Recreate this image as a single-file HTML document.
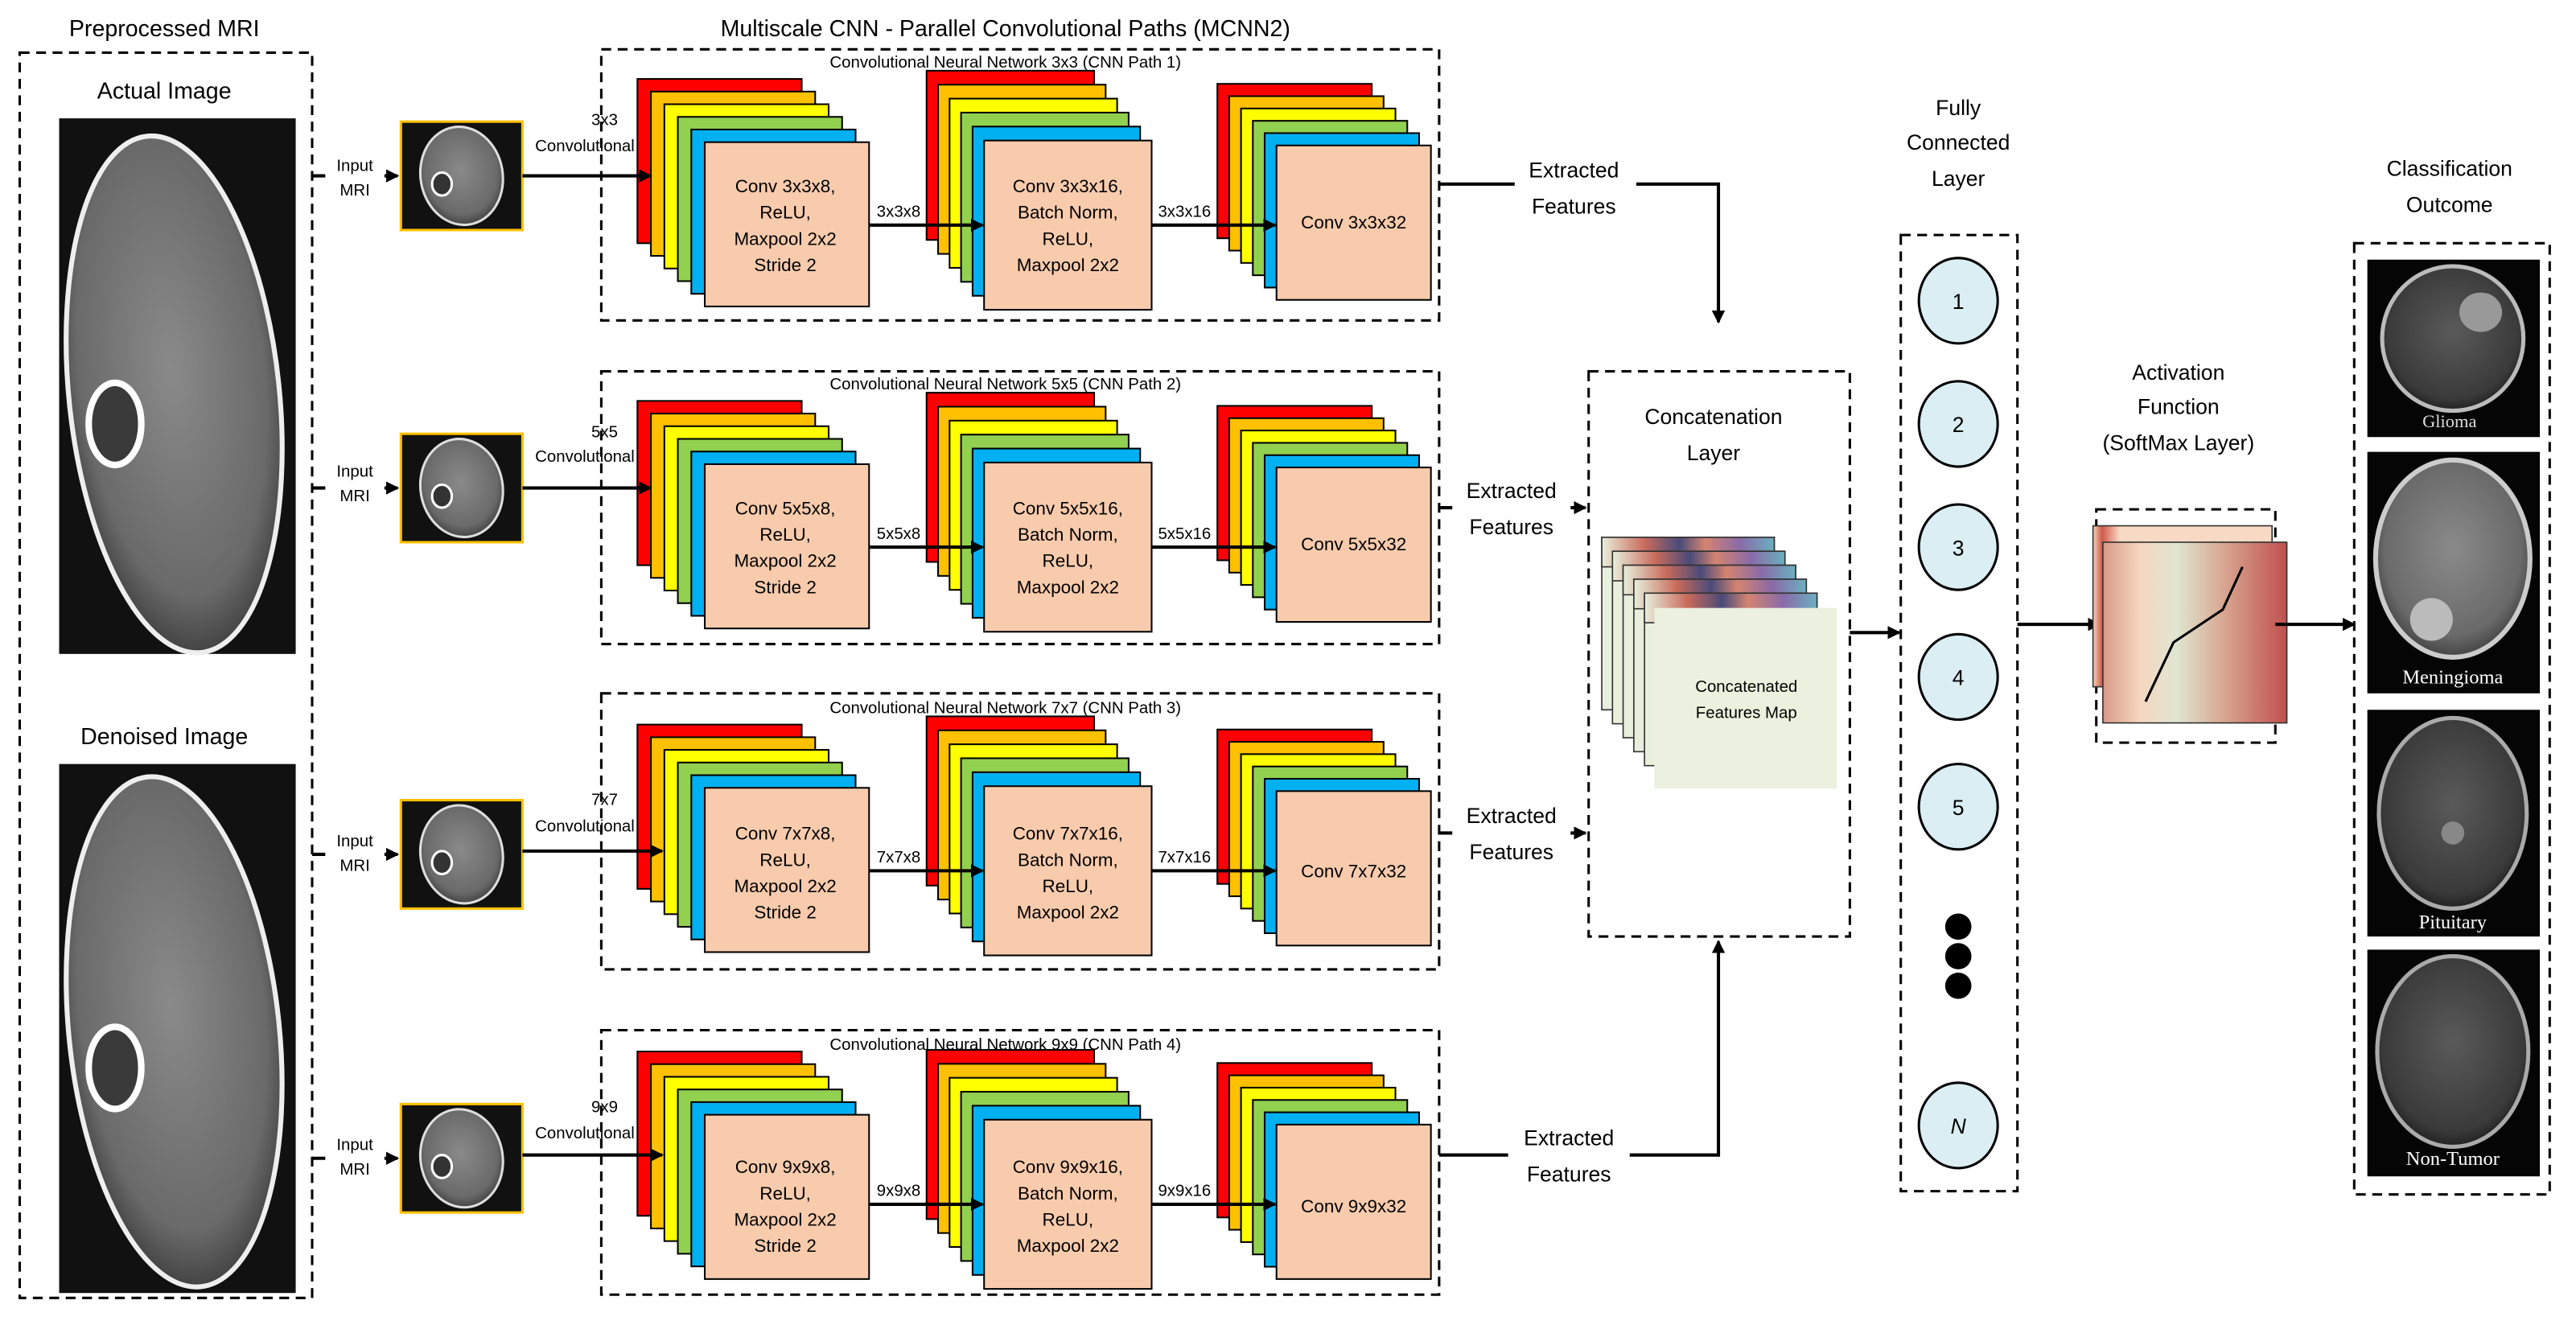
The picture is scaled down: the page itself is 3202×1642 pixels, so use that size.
<!DOCTYPE html>
<html><head><meta charset="utf-8"><style>
html,body{margin:0;padding:0;background:#fff;width:3202px;height:1642px;overflow:hidden}
svg{display:block}
text{font-family:"Liberation Sans",sans-serif;fill:#000}
</style></head><body>
<svg width="3202" height="1642" viewBox="0 0 1568 804" xmlns="http://www.w3.org/2000/svg">
<defs>
<marker id="ah" markerWidth="8" markerHeight="8" refX="7" refY="4" orient="auto" markerUnits="userSpaceOnUse"><path d="M0,0 L8,4 L0,8 z" fill="#000"/></marker>
<radialGradient id="brainG" cx="50%" cy="45%" r="55%"><stop offset="0" stop-color="#8a8a8a"/><stop offset="0.8" stop-color="#6a6a6a"/><stop offset="1" stop-color="#444"/></radialGradient>
<radialGradient id="brainD" cx="50%" cy="45%" r="55%"><stop offset="0" stop-color="#5a5a5a"/><stop offset="0.85" stop-color="#3a3a3a"/><stop offset="1" stop-color="#222"/></radialGradient>
<linearGradient id="featTop" x1="0" x2="1" y1="0" y2="0"><stop offset="0" stop-color="#e8efdc"/><stop offset="0.25" stop-color="#c96a5a"/><stop offset="0.45" stop-color="#4a4a7a"/><stop offset="0.6" stop-color="#d48470"/><stop offset="0.8" stop-color="#8a6aa8"/><stop offset="1" stop-color="#6ab0c0"/></linearGradient>
<linearGradient id="smG" x1="0" x2="1" y1="0" y2="0"><stop offset="0" stop-color="#d89a88"/><stop offset="0.2" stop-color="#f6d6bf"/><stop offset="0.4" stop-color="#dfe6d2"/><stop offset="0.65" stop-color="#d8a892"/><stop offset="1" stop-color="#c0504d"/></linearGradient>
<linearGradient id="smB" x1="0" x2="1"><stop offset="0" stop-color="#f6d6bf"/><stop offset="0.05" stop-color="#d05a4a"/><stop offset="0.15" stop-color="#f8d9c4"/><stop offset="1" stop-color="#f8d9c4"/></linearGradient>
<g id="thumb">
<rect x="0" y="0" width="74" height="66" fill="#111" stroke="#FFC000" stroke-width="1.5"/>
<ellipse cx="37" cy="33" rx="25" ry="30" fill="url(#brainG)" stroke="#ddd" stroke-width="1.5" transform="rotate(-10 37 33)"/>
<ellipse cx="25" cy="38" rx="6" ry="7" fill="#333" stroke="#fff" stroke-width="1.5"/>
</g>
<g id="stA">
<rect x="0" y="0" width="100" height="100" fill="#FF0000" stroke="#000" stroke-width="1"/>
<rect x="8.2" y="7.7" width="100" height="100" fill="#FFC000" stroke="#000" stroke-width="1"/>
<rect x="16.4" y="15.4" width="100" height="100" fill="#FFFF00" stroke="#000" stroke-width="1"/>
<rect x="24.6" y="23.1" width="100" height="100" fill="#92D050" stroke="#000" stroke-width="1"/>
<rect x="32.8" y="30.8" width="100" height="100" fill="#00B0F0" stroke="#000" stroke-width="1"/>
<rect x="41" y="38.5" width="100" height="100" fill="#F8CBAD" stroke="#000" stroke-width="1"/>
</g>
<g id="stB">
<rect x="0" y="0" width="102" height="103" fill="#FF0000" stroke="#000" stroke-width="1"/>
<rect x="7" y="8.5" width="102" height="103" fill="#FFC000" stroke="#000" stroke-width="1"/>
<rect x="14" y="17" width="102" height="103" fill="#FFFF00" stroke="#000" stroke-width="1"/>
<rect x="21" y="25.5" width="102" height="103" fill="#92D050" stroke="#000" stroke-width="1"/>
<rect x="28" y="34" width="102" height="103" fill="#00B0F0" stroke="#000" stroke-width="1"/>
<rect x="35" y="42.5" width="102" height="103" fill="#F8CBAD" stroke="#000" stroke-width="1"/>
</g>
<g id="stC">
<rect x="0" y="0" width="94" height="94" fill="#FF0000" stroke="#000" stroke-width="1"/>
<rect x="7.2" y="7.5" width="94" height="94" fill="#FFC000" stroke="#000" stroke-width="1"/>
<rect x="14.4" y="15" width="94" height="94" fill="#FFFF00" stroke="#000" stroke-width="1"/>
<rect x="21.6" y="22.5" width="94" height="94" fill="#92D050" stroke="#000" stroke-width="1"/>
<rect x="28.8" y="30" width="94" height="94" fill="#00B0F0" stroke="#000" stroke-width="1"/>
<rect x="36" y="37.5" width="94" height="94" fill="#F8CBAD" stroke="#000" stroke-width="1"/>
</g>
</defs>

<!-- Left column -->
<text x="100" y="22" font-size="14" text-anchor="middle">Preprocessed MRI</text>
<rect x="12" y="32" width="178" height="758" fill="none" stroke="#000" stroke-width="1.5" stroke-dasharray="6,4"/>
<text x="100" y="60" font-size="14" text-anchor="middle">Actual Image</text>
<rect x="36" y="72" width="144" height="326" fill="#111"/>
<ellipse cx="106" cy="240" rx="64" ry="158" fill="url(#brainG)" stroke="#eee" stroke-width="3" transform="rotate(-6 106 240)"/>
<ellipse cx="70" cy="258" rx="16" ry="25" fill="#3a3a3a" stroke="#fff" stroke-width="4"/>
<text x="100" y="453" font-size="14" text-anchor="middle">Denoised Image</text>
<rect x="36" y="465" width="144" height="322" fill="#111"/>
<ellipse cx="106" cy="628" rx="64" ry="156" fill="url(#brainG)" stroke="#eee" stroke-width="3" transform="rotate(-6 106 628)"/>
<ellipse cx="70" cy="650" rx="16" ry="25" fill="#3a3a3a" stroke="#fff" stroke-width="4"/>

<text x="612" y="22" font-size="14" text-anchor="middle">Multiscale CNN - Parallel Convolutional Paths (MCNN2)</text>

<!-- Row 1 -->
<rect x="366" y="30" width="510" height="165" fill="none" stroke="#000" stroke-width="1.5" stroke-dasharray="6,4"/>
<text x="612" y="41" font-size="10" text-anchor="middle">Convolutional Neural Network 3x3 (CNN Path 1)</text>
<line x1="190" y1="107" x2="242" y2="107" stroke="#000" stroke-width="2" marker-end="url(#ah)"/>
<rect x="198" y="92" width="36" height="30" fill="#fff"/>
<text x="216" y="104" font-size="10" text-anchor="middle">Input</text><text x="216" y="119" font-size="10" text-anchor="middle">MRI</text>
<use href="#thumb" x="244" y="74"/>
<use href="#stA" x="388" y="48"/>
<use href="#stB" x="564" y="43"/>
<use href="#stC" x="741" y="51"/>
<line x1="318" y1="107" x2="396" y2="107" stroke="#000" stroke-width="2" marker-end="url(#ah)"/>
<text x="368" y="76" font-size="10" text-anchor="middle">3x3</text><text x="356" y="92" font-size="10" text-anchor="middle">Convolutional</text>
<line x1="529" y1="137" x2="598" y2="137" stroke="#000" stroke-width="2" marker-end="url(#ah)"/>
<line x1="701" y1="137" x2="776" y2="137" stroke="#000" stroke-width="2" marker-end="url(#ah)"/>
<text x="547" y="132" font-size="10" text-anchor="middle">3x3x8</text>
<text x="721" y="132" font-size="10" text-anchor="middle">3x3x16</text>
<g font-size="11" text-anchor="middle">
<text x="478" y="117">Conv 3x3x8,</text><text x="478" y="133">ReLU,</text><text x="478" y="149">Maxpool 2x2</text><text x="478" y="165">Stride 2</text>
<text x="650" y="117">Conv 3x3x16,</text><text x="650" y="133">Batch Norm,</text><text x="650" y="149">ReLU,</text><text x="650" y="165">Maxpool 2x2</text>
<text x="824" y="139">Conv 3x3x32</text>
</g>

<!-- Row 2 -->
<rect x="366" y="226" width="510" height="166" fill="none" stroke="#000" stroke-width="1.5" stroke-dasharray="6,4"/>
<text x="612" y="237" font-size="10" text-anchor="middle">Convolutional Neural Network 5x5 (CNN Path 2)</text>
<line x1="190" y1="297" x2="242" y2="297" stroke="#000" stroke-width="2" marker-end="url(#ah)"/>
<rect x="198" y="282" width="36" height="30" fill="#fff"/>
<text x="216" y="290" font-size="10" text-anchor="middle">Input</text><text x="216" y="305" font-size="10" text-anchor="middle">MRI</text>
<use href="#thumb" x="244" y="264"/>
<use href="#stA" x="388" y="244"/>
<use href="#stB" x="564" y="239"/>
<use href="#stC" x="741" y="247"/>
<line x1="318" y1="297" x2="396" y2="297" stroke="#000" stroke-width="2" marker-end="url(#ah)"/>
<text x="368" y="266" font-size="10" text-anchor="middle">5x5</text><text x="356" y="281" font-size="10" text-anchor="middle">Convolutional</text>
<line x1="529" y1="333" x2="598" y2="333" stroke="#000" stroke-width="2" marker-end="url(#ah)"/>
<line x1="701" y1="333" x2="776" y2="333" stroke="#000" stroke-width="2" marker-end="url(#ah)"/>
<text x="547" y="328" font-size="10" text-anchor="middle">5x5x8</text>
<text x="721" y="328" font-size="10" text-anchor="middle">5x5x16</text>
<g font-size="11" text-anchor="middle">
<text x="478" y="313">Conv 5x5x8,</text><text x="478" y="329">ReLU,</text><text x="478" y="345">Maxpool 2x2</text><text x="478" y="361">Stride 2</text>
<text x="650" y="313">Conv 5x5x16,</text><text x="650" y="329">Batch Norm,</text><text x="650" y="345">ReLU,</text><text x="650" y="361">Maxpool 2x2</text>
<text x="824" y="335">Conv 5x5x32</text>
</g>

<!-- Row 3 -->
<rect x="366" y="422" width="510" height="168" fill="none" stroke="#000" stroke-width="1.5" stroke-dasharray="6,4"/>
<text x="612" y="434" font-size="10" text-anchor="middle">Convolutional Neural Network 7x7 (CNN Path 3)</text>
<line x1="190" y1="520" x2="242" y2="520" stroke="#000" stroke-width="2" marker-end="url(#ah)"/>
<rect x="198" y="505" width="36" height="30" fill="#fff"/>
<text x="216" y="515" font-size="10" text-anchor="middle">Input</text><text x="216" y="530" font-size="10" text-anchor="middle">MRI</text>
<use href="#thumb" x="244" y="487"/>
<use href="#stA" x="388" y="441"/>
<use href="#stB" x="564" y="436"/>
<use href="#stC" x="741" y="444"/>
<line x1="318" y1="518" x2="403" y2="518" stroke="#000" stroke-width="2" marker-end="url(#ah)"/>
<text x="368" y="490" font-size="10" text-anchor="middle">7x7</text><text x="356" y="506" font-size="10" text-anchor="middle">Convolutional</text>
<line x1="529" y1="530" x2="598" y2="530" stroke="#000" stroke-width="2" marker-end="url(#ah)"/>
<line x1="701" y1="530" x2="776" y2="530" stroke="#000" stroke-width="2" marker-end="url(#ah)"/>
<text x="547" y="525" font-size="10" text-anchor="middle">7x7x8</text>
<text x="721" y="525" font-size="10" text-anchor="middle">7x7x16</text>
<g font-size="11" text-anchor="middle">
<text x="478" y="511">Conv 7x7x8,</text><text x="478" y="527">ReLU,</text><text x="478" y="543">Maxpool 2x2</text><text x="478" y="559">Stride 2</text>
<text x="650" y="511">Conv 7x7x16,</text><text x="650" y="527">Batch Norm,</text><text x="650" y="543">ReLU,</text><text x="650" y="559">Maxpool 2x2</text>
<text x="824" y="534">Conv 7x7x32</text>
</g>

<!-- Row 4 -->
<rect x="366" y="627" width="510" height="161" fill="none" stroke="#000" stroke-width="1.5" stroke-dasharray="6,4"/>
<text x="612" y="639" font-size="10" text-anchor="middle">Convolutional Neural Network 9x9 (CNN Path 4)</text>
<line x1="190" y1="705" x2="242" y2="705" stroke="#000" stroke-width="2" marker-end="url(#ah)"/>
<rect x="198" y="690" width="36" height="30" fill="#fff"/>
<text x="216" y="700" font-size="10" text-anchor="middle">Input</text><text x="216" y="715" font-size="10" text-anchor="middle">MRI</text>
<use href="#thumb" x="244" y="672"/>
<use href="#stA" x="388" y="640"/>
<use href="#stB" x="564" y="639"/>
<use href="#stC" x="741" y="647"/>
<line x1="318" y1="703" x2="403" y2="703" stroke="#000" stroke-width="2" marker-end="url(#ah)"/>
<text x="368" y="677" font-size="10" text-anchor="middle">9x9</text><text x="356" y="693" font-size="10" text-anchor="middle">Convolutional</text>
<line x1="529" y1="733" x2="598" y2="733" stroke="#000" stroke-width="2" marker-end="url(#ah)"/>
<line x1="701" y1="733" x2="776" y2="733" stroke="#000" stroke-width="2" marker-end="url(#ah)"/>
<text x="547" y="728" font-size="10" text-anchor="middle">9x9x8</text>
<text x="721" y="728" font-size="10" text-anchor="middle">9x9x16</text>
<g font-size="11" text-anchor="middle">
<text x="478" y="714">Conv 9x9x8,</text><text x="478" y="730">ReLU,</text><text x="478" y="746">Maxpool 2x2</text><text x="478" y="762">Stride 2</text>
<text x="650" y="714">Conv 9x9x16,</text><text x="650" y="730">Batch Norm,</text><text x="650" y="746">ReLU,</text><text x="650" y="762">Maxpool 2x2</text>
<text x="824" y="738">Conv 9x9x32</text>
</g>

<!-- Extracted features connectors -->
<polyline points="876,112 1046,112 1046,196" fill="none" stroke="#000" stroke-width="2" marker-end="url(#ah)"/>
<rect x="922" y="95" width="74" height="36" fill="#fff"/>
<text x="958" y="108" font-size="13" text-anchor="middle">Extracted</text><text x="958" y="130" font-size="13" text-anchor="middle">Features</text>
<line x1="876" y1="309" x2="965" y2="309" stroke="#000" stroke-width="2" marker-end="url(#ah)"/>
<rect x="884" y="290" width="72" height="36" fill="#fff"/>
<text x="920" y="303" font-size="13" text-anchor="middle">Extracted</text><text x="920" y="325" font-size="13" text-anchor="middle">Features</text>
<line x1="876" y1="507" x2="965" y2="507" stroke="#000" stroke-width="2" marker-end="url(#ah)"/>
<rect x="884" y="488" width="72" height="36" fill="#fff"/>
<text x="920" y="501" font-size="13" text-anchor="middle">Extracted</text><text x="920" y="523" font-size="13" text-anchor="middle">Features</text>
<polyline points="876,703 1046,703 1046,573" fill="none" stroke="#000" stroke-width="2" marker-end="url(#ah)"/>
<rect x="918" y="684" width="74" height="36" fill="#fff"/>
<text x="955" y="697" font-size="13" text-anchor="middle">Extracted</text><text x="955" y="719" font-size="13" text-anchor="middle">Features</text>

<!-- Concatenation -->
<rect x="967" y="226" width="159" height="344" fill="none" stroke="#000" stroke-width="1.5" stroke-dasharray="6,4"/>
<text x="1043" y="258" font-size="13" text-anchor="middle">Concatenation</text><text x="1043" y="280" font-size="13" text-anchor="middle">Layer</text>
<g stroke="#333" stroke-width="0.8">
<rect x="975" y="327" width="105" height="105" fill="#e8efdc"/><rect x="975" y="327" width="105" height="18" fill="url(#featTop)"/>
<rect x="981.5" y="335.5" width="105" height="105" fill="#e8efdc"/><rect x="981.5" y="335.5" width="105" height="18" fill="url(#featTop)"/>
<rect x="988" y="344" width="105" height="105" fill="#e8efdc"/><rect x="988" y="344" width="105" height="18" fill="url(#featTop)"/>
<rect x="994.5" y="352.5" width="105" height="105" fill="#e8efdc"/><rect x="994.5" y="352.5" width="105" height="18" fill="url(#featTop)"/>
<rect x="1001" y="361" width="105" height="105" fill="#e8efdc"/><rect x="1001" y="361" width="105" height="18" fill="url(#featTop)"/>
</g>
<rect x="1007" y="370" width="111" height="110" fill="#EBF1DE"/>
<text x="1063" y="421" font-size="10" text-anchor="middle">Concatenated</text><text x="1063" y="437" font-size="10" text-anchor="middle">Features Map</text>
<line x1="1126" y1="385" x2="1156" y2="385" stroke="#000" stroke-width="2" marker-end="url(#ah)"/>

<!-- Fully connected -->
<text x="1192" y="70" font-size="13" text-anchor="middle">Fully</text><text x="1192" y="91" font-size="13" text-anchor="middle">Connected</text><text x="1192" y="113" font-size="13" text-anchor="middle">Layer</text>
<rect x="1157" y="143" width="71" height="582" fill="none" stroke="#000" stroke-width="1.5" stroke-dasharray="6,4"/>
<g fill="#DAEEF3" stroke="#000" stroke-width="1.5">
<ellipse cx="1192" cy="183" rx="24" ry="26"/><ellipse cx="1192" cy="258" rx="24" ry="26"/><ellipse cx="1192" cy="333" rx="24" ry="26"/><ellipse cx="1192" cy="412" rx="24" ry="26"/><ellipse cx="1192" cy="491" rx="24" ry="26"/><ellipse cx="1192" cy="685" rx="24" ry="26"/>
</g>
<g font-size="13" text-anchor="middle">
<text x="1192" y="188">1</text><text x="1192" y="263">2</text><text x="1192" y="338">3</text><text x="1192" y="417">4</text><text x="1192" y="496">5</text><text x="1192" y="690" font-style="italic">N</text>
</g>
<circle cx="1192" cy="564" r="8" fill="#000"/><circle cx="1192" cy="582" r="8" fill="#000"/><circle cx="1192" cy="600" r="8" fill="#000"/>
<line x1="1228" y1="380" x2="1278" y2="380" stroke="#000" stroke-width="2" marker-end="url(#ah)"/>

<!-- Softmax -->
<text x="1326" y="231" font-size="13" text-anchor="middle">Activation</text><text x="1326" y="252" font-size="13" text-anchor="middle">Function</text><text x="1326" y="274" font-size="13" text-anchor="middle">(SoftMax Layer)</text>
<rect x="1276" y="310" width="109" height="142" fill="none" stroke="#000" stroke-width="1.5" stroke-dasharray="6,4"/>
<rect x="1274" y="320" width="109" height="98" fill="url(#smB)" stroke="#333" stroke-width="0.8"/>
<rect x="1280" y="330" width="112" height="110" fill="url(#smG)" stroke="#333" stroke-width="0.8"/>
<polyline points="1306,427 1323,391 1353,371 1365,345" fill="none" stroke="#000" stroke-width="1.5"/>
<line x1="1385" y1="380" x2="1433" y2="380" stroke="#000" stroke-width="2" marker-end="url(#ah)"/>

<!-- Classification -->
<text x="1491" y="107" font-size="13" text-anchor="middle">Classification</text><text x="1491" y="129" font-size="13" text-anchor="middle">Outcome</text>
<rect x="1433" y="148" width="119" height="579" fill="none" stroke="#000" stroke-width="1.5" stroke-dasharray="6,4"/>
<rect x="1441" y="158" width="105" height="108" fill="#050505"/>
<ellipse cx="1493" cy="206" rx="43" ry="44" fill="url(#brainD)" stroke="#bbb" stroke-width="2.5"/>
<ellipse cx="1510" cy="190" rx="13" ry="12" fill="#999"/>
<text x="1491" y="260" font-size="11" text-anchor="middle" style="fill:#ddd;font-family:'Liberation Serif',serif">Glioma</text>
<rect x="1441" y="275" width="105" height="147" fill="#050505"/>
<ellipse cx="1493" cy="340" rx="47" ry="60" fill="url(#brainG)" stroke="#ccc" stroke-width="3"/>
<circle cx="1480" cy="377" r="13" fill="#bbb"/>
<text x="1493" y="416" font-size="12" text-anchor="middle" style="fill:#fff;font-family:'Liberation Serif',serif">Meningioma</text>
<rect x="1441" y="432" width="105" height="138" fill="#050505"/>
<ellipse cx="1493" cy="495" rx="45" ry="58" fill="url(#brainD)" stroke="#aaa" stroke-width="2.5"/>
<circle cx="1493" cy="507" r="7" fill="#888"/>
<text x="1493" y="565" font-size="12" text-anchor="middle" style="fill:#fff;font-family:'Liberation Serif',serif">Pituitary</text>
<rect x="1441" y="578" width="105" height="138" fill="#050505"/>
<ellipse cx="1493" cy="640" rx="46" ry="58" fill="url(#brainD)" stroke="#aaa" stroke-width="2.5"/>
<text x="1493" y="709" font-size="12" text-anchor="middle" style="fill:#fff;font-family:'Liberation Serif',serif">Non-Tumor</text>
</svg>
</body></html>
